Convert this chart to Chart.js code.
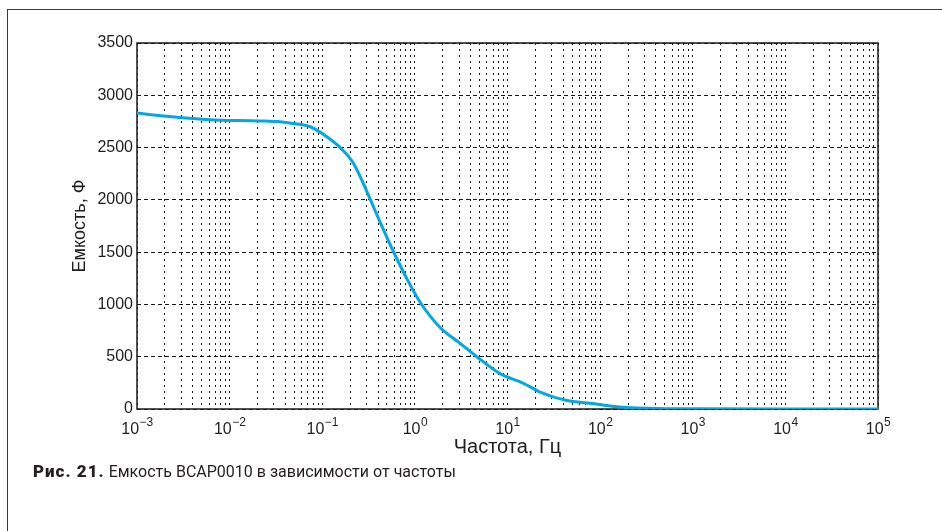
<!DOCTYPE html>
<html>
<head>
<meta charset="utf-8">
<script src="https://cdn.jsdelivr.net/npm/chart.js@4/dist/chart.umd.min.js"></script>
<style>
  html, body { margin: 0; padding: 0; background: #ffffff; }
  #wrap { position: relative; width: 942px; height: 531px; overflow: hidden; background: #ffffff; }
  #c { position: absolute; left: 0; top: 0; }
  #frame { position: absolute; left: 7px; top: 9px; width: 960px; height: 560px;
           border-left: 1.5px solid #3a3a3a; border-top: 1.5px solid #3a3a3a; pointer-events: none; }
  #caption { position: absolute; left: 33px; top: 461px; font-family: Roboto, "Liberation Sans", sans-serif;
             font-size: 16px; color: #231f20; white-space: nowrap; }
  #caption b { font-weight: 900; font-size: 17px; letter-spacing: 1px; }
</style>
</head>
<body>
<div id="wrap">
  <canvas id="c" width="942" height="531"></canvas>
  <div id="frame"></div>
  <div id="caption"><b>Рис. 21.</b> Емкость BCAP0010 в зависимости от частоты</div>
</div>
<script>
// ---- data ----
const frequencyHz = [0.001, 0.0021, 0.0061, 0.021, 0.035, 0.048, 0.074, 0.112, 0.156, 0.217, 0.328,
                     0.421, 0.586, 0.817, 1.14, 1.87, 3.08, 4.66, 8.3, 14.9, 22.5, 43.7, 78, 179, 409,
                     1000, 10000, 100000];
const capacitanceF = [2830, 2800, 2767, 2755, 2746, 2731, 2699, 2604, 2500, 2350, 2010,
                      1788, 1506, 1248, 1021, 780, 628, 500, 338, 246, 162, 81, 54, 16, 4,
                      2, 1, 1];
const xDecadeExponents = [-3, -2, -1, 0, 1, 2, 3, 4, 5];
const xMinorMultipliers = [1, 2, 3, 4, 5, 6, 7, 8, 9];
const yTickStep = 500;
const yMin = 0, yMax = 3500;
const xTitle = 'Частота, Гц';
const yTitle = 'Емкость, Ф';

// grid tick values for the log axis (1..9 x 10^k)
const xGridValues = [];
for (let i = 0; i < xDecadeExponents.length - 1; i++) {
  for (const m of xMinorMultipliers) xGridValues.push(m * Math.pow(10, xDecadeExponents[i]));
}
xGridValues.push(Math.pow(10, xDecadeExponents[xDecadeExponents.length - 1]));

const points = frequencyHz.map((f, i) => ({ x: f, y: capacitanceF[i] }));
const FONT = '"Liberation Sans", Arial, sans-serif';

const boxPlugin = {
  id: 'box',
  beforeDatasetsDraw(chart) {
    const { ctx, chartArea: a } = chart;
    ctx.save();
    ctx.strokeStyle = '#1a1a1a';
    ctx.lineWidth = 1.5;
    ctx.strokeRect(a.left, a.top, a.right - a.left, a.bottom - a.top);
    ctx.restore();
  },
  afterDraw(chart) {
    const { ctx } = chart;
    const xs = chart.scales.x;
    ctx.save();
    ctx.fillStyle = '#1f1f1f';
    ctx.textBaseline = 'alphabetic';
    for (const e of xDecadeExponents) {
      const px = xs.getPixelForValue(Math.pow(10, e));
      const base = '10';
      const sup = e < 0 ? '\u2212' + Math.abs(e) : String(e);
      ctx.font = '16px ' + FONT;
      const w1 = ctx.measureText(base).width;
      ctx.font = '12px ' + FONT;
      const w2 = ctx.measureText(sup).width;
      const start = px - (w1 + w2) / 2;
      ctx.font = '16px ' + FONT;
      ctx.textAlign = 'left';
      ctx.fillText(base, start, 434);
      ctx.font = '12px ' + FONT;
      ctx.fillText(sup, start + w1 + 0.5, 426);
    }
    ctx.restore();
  }
};

new Chart(document.getElementById('c'), {
  type: 'line',
  data: {
    datasets: [{
      data: points,
      borderColor: '#00a8e6',
      borderWidth: 3,
      pointRadius: 0,
      fill: false,
      cubicInterpolationMode: 'monotone'
    }]
  },
  options: {
    responsive: false,
    animation: false,
    events: [],
    layout: { padding: { left: 0, top: 43, right: 64, bottom: 72 } },
    plugins: { legend: { display: false }, tooltip: { enabled: false } },
    scales: {
      x: {
        type: 'logarithmic',
        min: Math.pow(10, xDecadeExponents[0]),
        max: Math.pow(10, xDecadeExponents[xDecadeExponents.length - 1]),
        afterBuildTicks: s => { s.ticks = xGridValues.map(v => ({ value: v })); },
        afterFit: s => { s.height = 50; },
        ticks: { display: false },
        border: { display: false, dash: [2, 4] },
        grid: { color: 'rgba(0,0,0,0.9)', lineWidth: 1, drawTicks: false },
        title: { display: true, text: xTitle, color: '#1f1f1f', font: { family: FONT, size: 20 },
                 padding: { top: 0, bottom: 0 } }
      },
      y: {
        type: 'linear',
        min: yMin,
        max: yMax,
        afterFit: s => { s.width = 137; },
        ticks: { stepSize: yTickStep, color: '#1f1f1f', font: { family: FONT, size: 16 }, padding: 4,
                 callback: v => String(v) },
        border: { display: false, dash: [4, 3] },
        grid: { color: 'rgba(0,0,0,0.9)', lineWidth: 1, drawTicks: false },
        title: { display: true, text: yTitle, color: '#1f1f1f', font: { family: FONT, size: 18 },
                 padding: { top: 69, bottom: 0 } }
      }
    }
  },
  plugins: [boxPlugin]
});
</script>
</body>
</html>
